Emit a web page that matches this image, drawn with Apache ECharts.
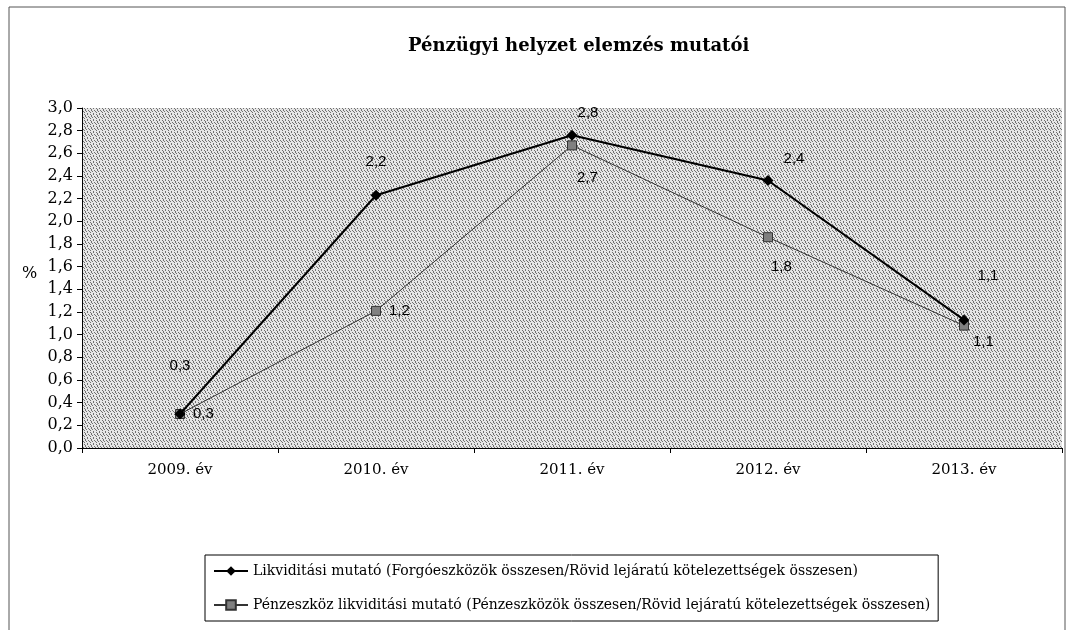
<!DOCTYPE html>
<html>
<head>
<meta charset="utf-8">
<script src="https://cdn.jsdelivr.net/npm/echarts@6/dist/echarts.min.js"></script>
<style>
  html, body { margin: 0; padding: 0; background: #fff; }
  #main { width: 1070px; height: 630px; }
</style>
</head>
<body>
<div id="main"></div>
<script>
var years = ['2009. év', '2010. év', '2011. év', '2012. év', '2013. év'];
var likviditas = [0.3, 2.23, 2.76, 2.36, 1.13];
var penzeszkoz = [0.3, 1.21, 2.67, 1.86, 1.08];
var likviditasLabels = ['0,3', '2,2', '2,8', '2,4', '1,1'];
var penzeszkozLabels = ['0,3', '1,2', '2,7', '1,8', '1,1'];
var seriesNames = [
  'Likviditási mutató (Forgóeszközök összesen/Rövid lejáratú kötelezettségek összesen)',
  'Pénzeszköz likviditási mutató (Pénzeszközök összesen/Rövid lejáratú kötelezettségek összesen)'
];

var myChart = echarts.init(document.getElementById('main'));

// pontozott szürke háttér
var pat = document.createElement('canvas');
pat.width = 6; pat.height = 6;
var pctx = pat.getContext('2d');
pctx.fillStyle = '#e6e6e6';
pctx.fillRect(0, 0, 6, 6);
pctx.fillStyle = '#707070';
[[0, 0], [3, 0], [1, 1], [4, 2], [2, 3], [5, 3], [0, 4], [3, 5], [1, 2]].forEach(function (p) {
  pctx.fillRect(p[0], p[1], 1, 1);
});

// címkék eltolása pontonként
var offs1 = [[0, -30], [0, -15], [16, -4], [26, -4], [24, -26]];
var offs2 = [[0, 0], [0, 0], [-8, 32], [-10, 30], [-4, 16]];

function makeData(vals, labels, offs) {
  var out = [];
  for (let i = 0; i < vals.length; i++) {
    out.push({
      value: vals[i],
      label: { formatter: labels[i], offset: offs[i] }
    });
  }
  return out;
}

var option = {
  backgroundColor: '#fff',
  animation: false,
  title: {
    text: 'Pénzügyi helyzet elemzés mutatói',
    left: 403,
    top: 32,
    textStyle: { fontFamily: 'DejaVu Serif', fontWeight: 'bold', fontSize: 18, color: '#000' }
  },
  graphic: [
    { type: 'rect', shape: { x: 9, y: 7, width: 1056, height: 640 }, style: { fill: 'none', stroke: '#555', lineWidth: 1 }, silent: true },
    { type: 'text', left: 22, top: 266, style: { text: '%', fontFamily: 'DejaVu Serif', fontSize: 16, fill: '#000' } }
  ],
  grid: {
    left: 82, right: 8, top: 108, bottom: 182,
    show: true,
    backgroundColor: { image: pat, repeat: 'repeat' },
    borderWidth: 0
  },
  legend: {
    orient: 'vertical',
    left: 205,
    top: 555,
    width: 730,
    itemGap: 20,
    itemWidth: 34,
    itemHeight: 12,
    padding: [9, 8, 9, 8],
    borderColor: '#000',
    borderWidth: 1,
    textStyle: { fontFamily: 'DejaVu Serif', fontSize: 14, color: '#000' },
    data: seriesNames
  },
  xAxis: {
    type: 'category',
    data: years,
    boundaryGap: true,
    axisLine: { lineStyle: { color: '#000', width: 1 } },
    axisTick: { show: true, inside: false, length: 5, lineStyle: { color: '#000' } },
    axisLabel: { margin: 15, fontFamily: 'DejaVu Serif', fontSize: 15, color: '#000' },
    splitLine: { show: false }
  },
  yAxis: {
    type: 'value',
    min: 0, max: 3, interval: 0.2,
    axisLine: { show: true, lineStyle: { color: '#000', width: 1 } },
    axisTick: { show: true, length: 5, lineStyle: { color: '#000' } },
    axisLabel: {
      margin: 9, fontFamily: 'DejaVu Serif', fontSize: 16, color: '#000',
      formatter: function (v) { return v.toFixed(1).replace('.', ','); }
    },
    splitLine: { show: false }
  },
  series: [{
    name: seriesNames[0],
    type: 'line',
    data: makeData(likviditas, likviditasLabels, offs1),
    symbol: 'diamond',
    symbolSize: 11,
    z: 3,
    lineStyle: { color: '#000', width: 2 },
    itemStyle: { color: '#000' },
    label: { show: true, position: 'top', fontFamily: 'Liberation Sans', fontSize: 15, color: '#000' }
  }, {
    name: seriesNames[1],
    type: 'line',
    data: makeData(penzeszkoz, penzeszkozLabels, offs2),
    symbol: 'rect',
    symbolSize: 9,
    z: 2,
    lineStyle: { color: '#333', width: 1 },
    itemStyle: { color: '#808080', borderColor: '#333', borderWidth: 1 },
    label: { show: true, position: 'right', distance: 8, fontFamily: 'Liberation Sans', fontSize: 15, color: '#000' }
  }]
};

myChart.setOption(option);
</script>
</body>
</html>
